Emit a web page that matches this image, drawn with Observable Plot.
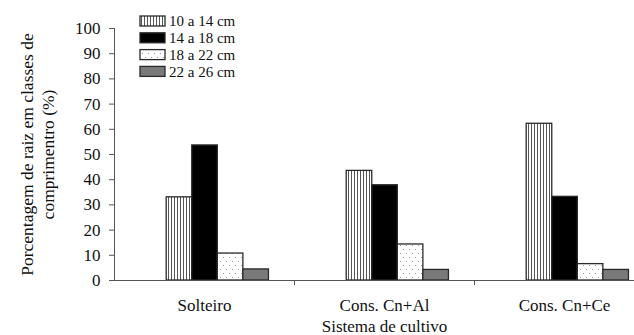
<!DOCTYPE html>
<html>
<head>
<meta charset="utf-8">
<script src="https://cdn.jsdelivr.net/npm/d3@7"></script>
<script src="https://cdn.jsdelivr.net/npm/@observablehq/plot@0.6"></script>
<style>
  html, body { margin: 0; padding: 0; background: #fff; overflow: hidden; }
</style>
</head>
<body>
<div id="chart"></div>
<script>
const groups = ["Solteiro", "Cons. Cn+Al", "Cons. Cn+Ce"];
const classes = ["10 a 14 cm", "14 a 18 cm", "18 a 22 cm", "22 a 26 cm"];
const v10a14 = [33.0, 43.5, 62.2];
const v14a18 = [53.6, 37.8, 33.2];
const v18a22 = [10.7, 14.3, 6.5];
const v22a26 = [4.4, 4.2, 4.2];
const yTicks = [0, 10, 20, 30, 40, 50, 60, 70, 80, 90, 100];
const yTitle = "Porcentagem de raiz em classes de\ncomprimentro (%)";
const xTitle = "Sistema de cultivo";

const series = [v10a14, v14a18, v18a22, v22a26];
const fills = ["url(#stripes)", "#000000", "url(#dots)", "#7a7a7a"];

const barW = 0.142, barOff = 0.29;
const font = "'Liberation Serif', 'Times New Roman', serif";

const barMarks = series.map((s, ci) => Plot.rectY(
  groups.map((g, gi) => ({group: g, gi, value: s[gi]})),
  {
    x1: d => d.gi + barOff + ci * barW,
    x2: d => d.gi + barOff + (ci + 1) * barW,
    y1: 0,
    y2: "value",
    fill: fills[ci],
    stroke: "#2a2a2a",
    strokeWidth: 1.3
  }
));

const plot = Plot.plot({
  width: 634,
  height: 335,
  marginLeft: 114,
  marginRight: 0,
  marginTop: 28,
  marginBottom: 55,
  style: {fontFamily: font, fontSize: "16px", color: "#111", background: "#fff"},
  x: {type: "linear", domain: [0, 3], range: [114, 654], axis: null},
  y: {type: "linear", domain: [0, 100], axis: null},
  marks: [
    ...barMarks,
    Plot.ruleY([0], {stroke: "#555", strokeWidth: 1}),
    Plot.ruleX([0], {y1: 0, y2: 100, stroke: "#555", strokeWidth: 1}),
    Plot.axisY({ticks: yTicks, tickSize: 5, tickPadding: 9, stroke: "#555", fontSize: 17, label: null}),
    Plot.ruleX([1, 2], {y1: 0, y2: -2, stroke: "#555", strokeWidth: 1}),
    Plot.text(groups, {x: (d, i) => i + 0.5, y: 0, dy: 25, fontSize: 17, fill: "#111"}),
    Plot.text([xTitle], {x: 1.5, y: 0, dy: 46, fontSize: 17, fill: "#111"}),
    Plot.text([yTitle], {frameAnchor: "left", textAnchor: "middle", dx: -78, rotate: -90, fontSize: 17.5, lineHeight: 1.25, fill: "#111"})
  ]
});

const svg = d3.select(plot);
const defs = svg.insert("defs", ":first-child");
const st = defs.append("pattern").attr("id", "stripes").attr("patternUnits", "userSpaceOnUse")
  .attr("width", 3).attr("height", 10);
st.append("rect").attr("width", 3).attr("height", 10).attr("fill", "#fff");
st.append("rect").attr("x", 0).attr("width", 1).attr("height", 10).attr("fill", "#555");
const dt = defs.append("pattern").attr("id", "dots").attr("patternUnits", "userSpaceOnUse")
  .attr("width", 6).attr("height", 8);
dt.append("rect").attr("width", 6).attr("height", 8).attr("fill", "#fff");
dt.append("rect").attr("x", 1).attr("y", 1).attr("width", 1).attr("height", 1).attr("fill", "#999");
dt.append("rect").attr("x", 4).attr("y", 5).attr("width", 1).attr("height", 1).attr("fill", "#999");

const leg = svg.append("g").attr("font-family", font).attr("font-size", 15).attr("fill", "#111")
  .attr("text-anchor", "start");
classes.forEach((c, i) => {
  const cy = 21 + i * 16.8;
  leg.append("rect").attr("x", 140).attr("y", cy - 5).attr("width", 25).attr("height", 10)
    .attr("fill", fills[i]).attr("stroke", "#2a2a2a").attr("stroke-width", 1.3);
  leg.append("text").attr("x", 169).attr("y", cy).attr("dy", "0.35em").text(c);
});

document.getElementById("chart").appendChild(plot);
</script>
</body>
</html>
